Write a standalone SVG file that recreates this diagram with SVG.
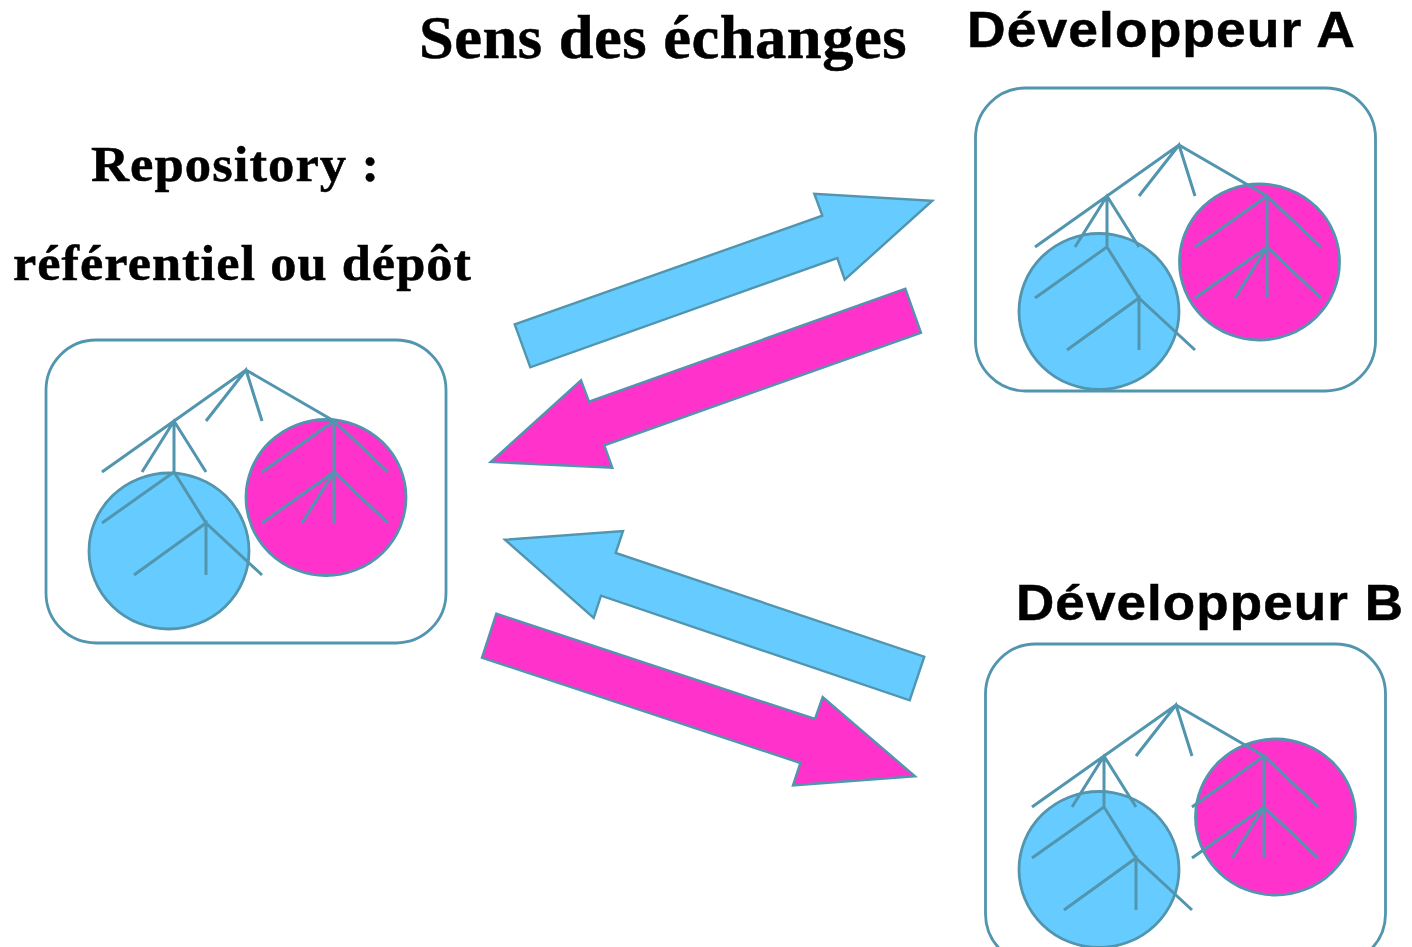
<svg xmlns="http://www.w3.org/2000/svg" width="1412" height="947" viewBox="0 0 1412 947">
<style>
.box{fill:#fff;stroke:#5195ae;stroke-width:2.8}
.c{stroke:#5195ae;stroke-width:2.8}
.b{fill:#66ccff}.p{fill:#ff33cc}
.t{fill:none;stroke:#5195ae;stroke-width:3}
.a{stroke:#5195ae;stroke-width:2.4;stroke-linejoin:miter}
.s{font-family:"Liberation Serif",serif;font-weight:bold;fill:#000;stroke:#000;stroke-width:.5}
.h{font-family:"Liberation Sans",sans-serif;font-weight:bold;fill:#000;font-size:50px;letter-spacing:1px;stroke:#000;stroke-width:.5}
</style>
<defs>
<path id="tree" class="t" d="M102 472L246 370L334 421M206 421L246 370L262 421M142 472L174 421L206 472M174 421V472L102 523M174 472L206 523L262 575M134 575L206 523V575M262 472L334 421L388 472M334 421V523M262 523L334 472L388 523M302 523L334 472"/>
</defs>
<rect width="1412" height="947" fill="#fff"/>
<g id="title"><text class="s" x="419" y="58" font-size="62" letter-spacing=".5" textLength="488" lengthAdjust="spacingAndGlyphs">Sens des échanges</text></g>
<g id="repo">
<text class="s" x="91" y="181" font-size="51" letter-spacing="1" textLength="289" lengthAdjust="spacingAndGlyphs">Repository :</text>
<text class="s" x="13" y="280" font-size="51" letter-spacing="1" textLength="459" lengthAdjust="spacingAndGlyphs">référentiel ou dépôt</text>
<rect class="box" x="46" y="340" width="400" height="303" rx="50"/>
<ellipse class="c b" cx="169" cy="551" rx="80" ry="78"/>
<ellipse class="c p" cx="326" cy="497.500" rx="80" ry="78"/>
<use href="#tree"/>
</g>
<g id="devA">
<text class="h" x="967" y="47" textLength="389" lengthAdjust="spacingAndGlyphs">Développeur A</text>
<rect class="box" x="975.500" y="88" width="400" height="303" rx="50"/>
<ellipse class="c b" cx="1099" cy="311.500" rx="80" ry="78"/>
<ellipse class="c p" cx="1259.500" cy="262" rx="80" ry="78"/>
<use href="#tree" x="933" y="-225"/>
</g>
<g id="devB">
<text class="h" x="1016" y="620" textLength="388" lengthAdjust="spacingAndGlyphs">Développeur B</text>
<rect class="box" x="985.500" y="644" width="400" height="320" rx="50"/>
<ellipse class="c b" cx="1099" cy="869.500" rx="80" ry="78"/>
<ellipse class="c p" cx="1275.500" cy="817" rx="80" ry="78"/>
<use href="#tree" x="930" y="335"/>
</g>
<g id="connectors">
<polygon class="a b" points="514.700,324.300 822.300,215.700 814.300,193.700 932.300,200.700 844.700,279.700 837.300,258 530.300,367.300"/>
<polygon class="a p" points="905.300,288.700 921,332.700 604.300,445.300 612.300,467.700 490.700,462 581,380.300 589,401.700"/>
<polygon class="a b" points="505,539.700 623,531 615.700,553 924.300,656.700 909.700,700.300 601,595.700 593.700,618"/>
<polygon class="a p" points="496.300,613.700 815,719 822.700,697 915,776.300 793,785.300 800.300,763 482,657.700"/>
</g>
</svg>
